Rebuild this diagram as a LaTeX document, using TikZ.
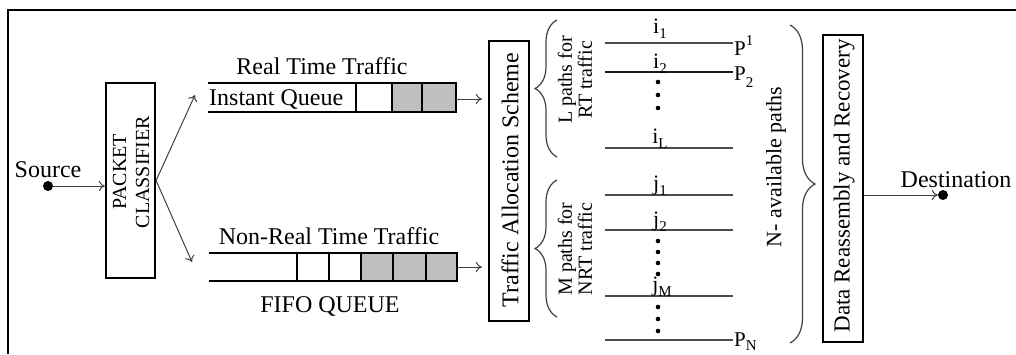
\documentclass[tikz,border=0pt]{standalone}
\usepackage{fontspec}
\setmainfont{Liberation Serif}
\usetikzlibrary{decorations.pathreplacing,arrows.meta}
\newcommand\mysub[2][-5bp]{\raisebox{#1}{\fontsize{15bp}{15bp}\selectfont #2}}
\begin{document}
\begin{tikzpicture}[x=1bp,y=-1bp,
  box/.style={draw, line width=2.2bp, inner sep=0pt},
  arr/.style={draw=black!75, line width=1bp, -{To[length=6bp,width=10bp]}},
  pathln/.style={draw=black!70, line width=1.5bp},
  qline/.style={line width=2.5bp},
  cellw/.style={draw, line width=2bp, fill=white},
  cellg/.style={draw, line width=2bp, fill=gray!50},
  big/.style={font=\fontsize{24bp}{28bp}\selectfont, inner sep=0pt},
  mid/.style={font=\fontsize{22bp}{24bp}\selectfont, inner sep=0pt},
  small/.style={font=\fontsize{20bp}{20bp}\selectfont, inner sep=0pt, align=center},
  dotnode/.style={circle, fill=black, inner sep=0pt, minimum size=10bp},
  vdot/.style={fill=black},
  bracestyle/.style={draw=black!75, line width=1.2bp, decorate},
]
\useasboundingbox (0,0) rectangle (1016,354);
% frame
\draw[line width=1.5bp] (8,354) -- (8,10) -- (1016,10);

% source
\node[dotnode] (src) at (48,186) {};
\node[big, anchor=base] (srclbl) at (48,177) {Source};

% packet classifier
\node[box, minimum width=49bp, minimum height=195bp] (cls) at (130.5,180.5) {};
\node[rotate=90, align=center, inner sep=0pt,
      font=\fontsize{20bp}{23bp}\selectfont] (clstxt) at (131,172) {PACKET\\CLASSIFIER};
\draw[arr] (src) -- (cls.west |- src);

\coordinate (rtin) at (195,95);
\coordinate (nrtin) at (192,262);
\draw[arr] (cls.east) -- (rtin);
\draw[arr] (cls.east) -- (nrtin);

% real time queue
\node[big, anchor=base] (rtlbl) at (322,74) {Real Time Traffic};
\draw[cellw] (356,83) rectangle (392,112);
\draw[cellg] (392,83) rectangle (422,112);
\draw[cellg] (422,83) rectangle (456,112);
\draw[qline] (208,83) -- (456,83);
\draw[qline] (208,112) -- (456,112);
\node[big, anchor=base west] (iq) at (209,105) {Instant Queue};
\coordinate (rtout) at (456,99);

% non real time queue
\node[big, anchor=base] (nrtlbl) at (329,244) {Non-Real Time Traffic};
\draw[cellw] (297,253) rectangle (329,281);
\draw[cellw] (329,253) rectangle (361,281);
\draw[cellg] (361,253) rectangle (393,281);
\draw[cellg] (393,253) rectangle (426,281);
\draw[cellg] (426,253) rectangle (457,281);
\draw[line width=1.5bp] (209,253) -- (297,253);
\draw[qline] (209,281) -- (457,281);
\node[big, anchor=base] (fifo) at (330,312) {FIFO QUEUE};
\coordinate (nrtout) at (457,267);

% traffic allocation scheme
\node[box, minimum width=40bp, minimum height=280bp] (tas) at (509,181) {};
\node[big, rotate=90] (tastxt) at (510,180) {Traffic Allocation Scheme};
\draw[arr, shorten >=6bp] (rtout) -- (tas.west |- rtout);
\draw[arr, shorten >=6bp] (nrtout) -- (tas.west |- nrtout);

% braces L and M
\coordinate (lb1) at (557,157);
\coordinate (lb2) at (557,20);
\coordinate (mb1) at (557,317);
\coordinate (mb2) at (557,180);
\draw[bracestyle, decoration={brace, amplitude=22bp}] (lb1) -- (lb2);
\draw[bracestyle, decoration={brace, amplitude=22bp}] (mb1) -- (mb2);
\node[small, rotate=90] (ltxt) at (575,80) {L paths for\\RT traffic};
\node[small, rotate=90] (mtxt) at (575,249) {M paths for\\NRT traffic};

% paths
\coordinate (p1a) at (605,43);  \coordinate (p1b) at (733,43);
\coordinate (p2a) at (605,72);  \coordinate (p2b) at (733,72);
\coordinate (pla) at (605,148); \coordinate (plb) at (733,148);
\coordinate (q1a) at (605,195); \coordinate (q1b) at (733,195);
\coordinate (q2a) at (605,230); \coordinate (q2b) at (733,230);
\coordinate (qma) at (605,296); \coordinate (qmb) at (733,296);
\coordinate (pna) at (605,340); \coordinate (pnb) at (733,340);
\draw[pathln] (p1a) -- (p1b);
\draw[pathln, draw=black!90] (p2a) -- (p2b);
\draw[pathln] (pla) -- (plb);
\draw[pathln] (q1a) -- (q1b);
\draw[pathln] (q2a) -- (q2b);
\draw[pathln] (qma) -- (qmb);
\draw[pathln] (pna) -- (pnb);

\node[mid, anchor=base] (i1) at (660,33) {i\mysub{1}};
\node[mid, anchor=base] (i2) at (660,68) {i\mysub{2}};
\node[mid, anchor=base] (il) at (660,143) {i\mysub{L}};
\node[mid, anchor=base] (j1) at (660,190) {j\mysub{1}};
\node[mid, anchor=base] (j2) at (660,226) {j\mysub{2}};
\node[mid, anchor=base] (jm) at (662,291) {j\mysub{M}};

\node[mid, anchor=base west, font=\fontsize{21bp}{24bp}\selectfont] (P1) at (734,55) {P\mysub[10bp]{1}};
\node[mid, anchor=base west, font=\fontsize{21bp}{24bp}\selectfont] (P2) at (734,80) {P\mysub[-7bp]{2}};
\node[mid, anchor=base west, font=\fontsize{21bp}{24bp}\selectfont] (PN) at (734,346) {P\mysub[-4bp]{N}};

\foreach \yy in {82,95,108} \fill[vdot] (658,\yy) circle (2.3bp);
\foreach \yy in {241,252,263,274} \fill[vdot] (658,\yy) circle (2.3bp);
\foreach \yy in {307,319,331} \fill[vdot] (658,\yy) circle (2.3bp);

% N brace
\coordinate (nb1) at (790,25);
\coordinate (nb2) at (790,343);
\draw[bracestyle, decoration={brace, amplitude=25bp}] (nb1) -- (nb2);
\node[mid, rotate=90] (ntxt) at (776,167) {N- available paths};

% data reassembly
\node[box, minimum width=40bp, minimum height=307bp] (drr) at (843,188.5) {};
\node[rotate=90, inner sep=0pt, font=\fontsize{23bp}{26bp}\selectfont] (drrtxt) at (844,186) {Data Reassembly and Recovery};

% destination
\node[dotnode] (dst) at (943,195) {};
\node[big, anchor=base] (dstlbl) at (956,187) {Destination};
\draw[arr] (drr.east |- dst) -- (dst.west);
\end{tikzpicture}
\end{document}
